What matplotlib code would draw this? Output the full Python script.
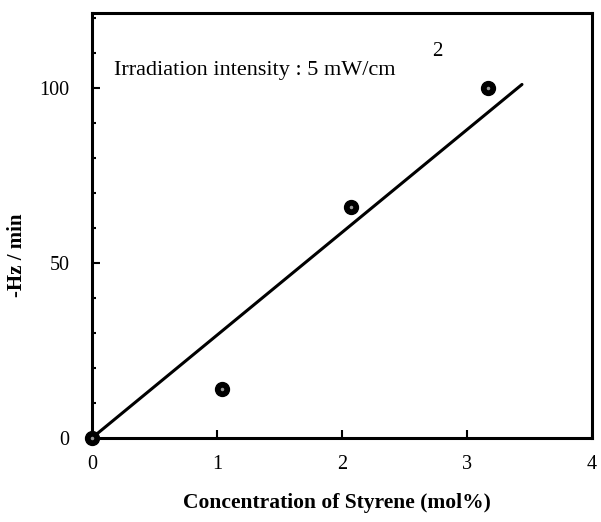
import numpy as np
import matplotlib
matplotlib.use('Agg')
import matplotlib.pyplot as plt

plt.rcParams['font.family'] = ['Liberation Serif', 'DejaVu Serif']

# styrene content (mol%) and frequency shift rate
conc = [0.0, 1.04, 2.07, 3.17]
rate = [0.0, 14.0, 66.0, 100.0]
fit_x = [0.0, 3.44]
fit_y = [0.0, 101.0]

fig = plt.figure(figsize=(6.01, 5.22), dpi=100)
ax = fig.add_axes([0.153, 0.161, 0.832, 0.814])

ax.plot(fit_x, fit_y, c='k', linewidth=2.2, solid_capstyle='round')
ax.plot(conc, rate, 'o', ms=10, mfc='k', mec='k', clip_on=False, zorder=5)
ax.plot(conc, rate, '.', ms=3, c='0.6', clip_on=False, zorder=6)

ax.set_xlim(0, 4)
ax.set_ylim(0, 121.4)
ax.set_xticks([0, 1, 2, 3, 4])
ax.set_yticks([0, 50, 100])
ax.yaxis.set_minor_locator(plt.MultipleLocator(10))
ax.tick_params(which='both', direction='in', width=1.5, labelsize=14.5)
ax.tick_params(which='major', length=6)
ax.tick_params(which='minor', length=3)
ax.tick_params(axis='x', pad=12)
ax.tick_params(axis='y', pad=16)
for s in ax.spines.values():
	s.set_linewidth(2.2)

ax.set_xlabel('Concentration of Styrene (mol%)', fontsize=15.5, fontweight='bold')
ax.xaxis.set_label_coords(0.49, -0.13)
ax.set_ylabel('-Hz / min', fontsize=15, fontweight='bold')
ax.yaxis.set_label_coords(-0.13, 0.43)

ax.text(0.045, 0.855, 'Irradiation intensity : 5 mW/cm', transform=ax.transAxes, fontsize=16)
ax.text(0.68, 0.9, '2', transform=ax.transAxes, fontsize=15)

fig.savefig('out.png', dpi=100)
